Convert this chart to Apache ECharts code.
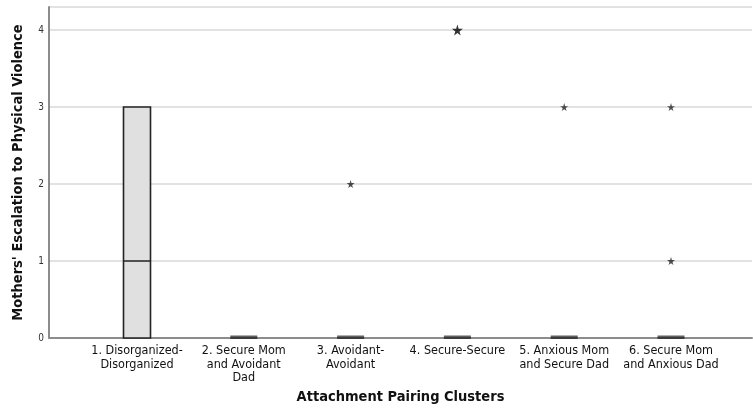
<!DOCTYPE html>
<html>
<head>
<meta charset="utf-8">
<script src="https://cdn.jsdelivr.net/npm/echarts@6/dist/echarts.min.js"></script>
<style>html,body{margin:0;padding:0;background:#fff}#c{width:753px;height:412px}</style>
</head>
<body>
<div id="c"></div>
<script>
var categories = ['1. Disorganized-\nDisorganized', '2. Secure Mom\nand Avoidant\nDad', '3. Avoidant-\nAvoidant', '4. Secure-Secure', '5. Anxious Mom\nand Secure Dad', '6. Secure Mom\nand Anxious Dad'];
// [min, Q1, median, Q3, max]
var boxMin    = [0, 0, 0, 0, 0, 0];
var boxQ1     = [0, 0, 0, 0, 0, 0];
var boxMedian = [1, 0, 0, 0, 0, 0];
var boxQ3     = [3, 0, 0, 0, 0, 0];
var boxMax    = [3, 0, 0, 0, 0, 0];
// outliers [category index, value]
var outliers = [[2, 2], [4, 3], [5, 3], [5, 1]];
var extremes = [[3, 4]];
var yTicks = [0, 1, 2, 3, 4];

var boxData = categories.map(function (c, i) {
  return [boxMin[i], boxQ1[i], boxMedian[i], boxQ3[i], boxMax[i]];
});
// collapsed boxes (Q1 == Q3) show only their median line
var flatMedians = [];
categories.forEach(function (c, i) {
  if (boxQ1[i] === boxQ3[i]) flatMedians.push([i, boxMedian[i]]);
});
var star = 'path://M50,0 L61,35 L98,35 L68,57 L79,91 L50,70 L21,91 L32,57 L2,35 L39,35 Z';
var font = '"DejaVu Sans Condensed", "Liberation Sans Narrow", "DejaVu Sans", sans-serif';

var chart = echarts.init(document.getElementById('c'), null, {renderer: 'canvas'});
chart.setOption({
  animation: false,
  backgroundColor: '#fff',
  grid: [
    {left: 49, right: 1, top: 7, bottom: 74},
    {left: 83.6, right: 28.6, top: 7, bottom: 74}
  ],
  xAxis: [
    {
      type: 'value', gridIndex: 0, min: 0, max: 1,
      axisLabel: {show: false}, axisTick: {show: false}, splitLine: {show: false},
      axisLine: {show: true, lineStyle: {color: '#8c8c8c', width: 2}},
      name: 'Attachment Pairing Clusters', nameLocation: 'middle', nameGap: 52,
      nameTextStyle: {fontFamily: font, fontWeight: 'bold', fontSize: 14.5, color: '#111'}
    },
    {
      type: 'category', gridIndex: 1, data: categories, boundaryGap: true,
      axisLine: {show: false}, axisTick: {show: false}, splitLine: {show: false},
      axisLabel: {interval: 0, fontFamily: font, fontSize: 12.5, color: '#111', lineHeight: 13.5, margin: 6}
    }
  ],
  yAxis: [
    {
      type: 'value', gridIndex: 0, min: 0, max: 4.3, interval: 1,
      axisLine: {show: true, lineStyle: {color: '#8c8c8c', width: 2}},
      axisTick: {show: false},
      axisLabel: {fontFamily: font, fontSize: 10, color: '#333', margin: 5,
        formatter: function (v) { return yTicks.indexOf(v) >= 0 ? String(v) : ''; }},
      splitLine: {show: true, lineStyle: {color: '#d9d9d9', width: 1.5}},
      name: "Mothers' Escalation to Physical Violence", nameLocation: 'middle', nameGap: 23,
      nameTextStyle: {fontFamily: font, fontWeight: 'bold', fontSize: 14.5, color: '#111'}
    },
    {
      type: 'value', gridIndex: 1, min: 0, max: 4.3, interval: 1,
      axisLine: {show: false}, axisTick: {show: false}, axisLabel: {show: false}, splitLine: {show: false}
    }
  ],
  series: [
    {
      type: 'boxplot', xAxisIndex: 1, yAxisIndex: 1, data: boxData, z: 10,
      boxWidth: [27, 27],
      itemStyle: {color: '#e0e0e0', borderColor: '#222', borderWidth: 1.6},
      emphasis: {disabled: true}
    },
    {
      type: 'scatter', xAxisIndex: 1, yAxisIndex: 1, data: flatMedians, z: 12,
      symbol: 'rect', symbolSize: [27, 2], symbolOffset: [0, -1.5],
      itemStyle: {color: '#3a3a3a'}, emphasis: {disabled: true}
    },
    {
      type: 'scatter', xAxisIndex: 1, yAxisIndex: 1, data: outliers, z: 11,
      symbol: star, symbolSize: 8, itemStyle: {color: '#222'}
    },
    {
      type: 'scatter', xAxisIndex: 1, yAxisIndex: 1, data: extremes, z: 11,
      symbol: star, symbolSize: 11, itemStyle: {color: '#000'}
    }
  ]
});
</script>
</body>
</html>
